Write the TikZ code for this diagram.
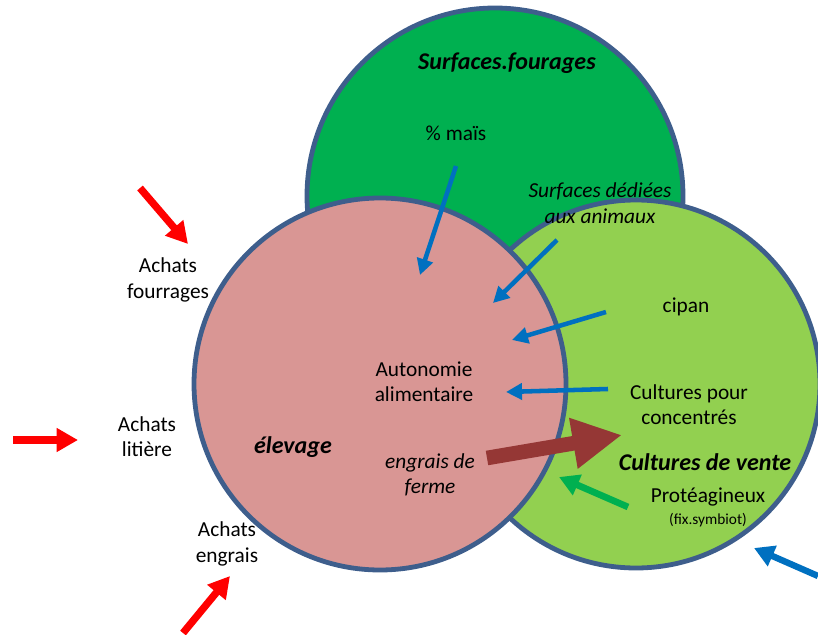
\documentclass[tikz,border=0pt]{standalone}
\usepackage{fontspec}
\setmainfont{Carlito}
\usetikzlibrary{arrows.meta}
\definecolor{sfgreen}{HTML}{00B050}
\definecolor{cvgreen}{HTML}{92D050}
\definecolor{elpink}{HTML}{D99694}
\definecolor{rim}{HTML}{3E5E8C}
\definecolor{flux}{HTML}{0070C0}
\definecolor{engr}{HTML}{953735}
\begin{document}
\begin{tikzpicture}[
  x=0.75pt, y=-0.75pt,
  font=\fontsize{16}{19}\selectfont,
  venn/.style={circle, draw=rim, line width=3.6pt, inner sep=0pt, outer sep=0pt},
  lbl/.style={align=center, inner sep=1pt},
  ttl/.style={font=\fontsize{18}{22}\selectfont\bfseries\itshape, inner sep=1pt},
  buy/.style={-{Triangle[length=16pt, width=17pt]}, line width=5.5pt, draw=red},
  feed/.style={-{Triangle[length=12pt, width=12pt]}, line width=3.4pt, draw=flux},
  feedext/.style={-{Triangle[length=15pt, width=16pt]}, line width=4.8pt, draw=flux},
  fix/.style={-{Triangle[length=15pt, width=16pt]}, line width=5pt, draw=sfgreen},
  recycle/.style={-{Triangle[length=37pt, width=36pt]}, line width=11pt, draw=engr},
]
  \useasboundingbox (0,0) rectangle (818,635);
  % --- the three domains ---
  \node[venn, fill=sfgreen, minimum size=282pt] (surf) at (495,196) {};
  \node[venn, fill=cvgreen, minimum size=276pt] (vente) at (636,384) {};
  \node[venn, fill=elpink, minimum size=279pt] (elev) at (380,384) {};
  % --- titles ---
  \node[ttl] (tsurf) at (507,63) {Surfaces.fourages};
  \node[ttl] (telev) at (293,447) {élevage};
  \node[ttl] (tvente) at (705,462) {Cultures de vente};
  % --- labels inside ---
  \node[lbl] (mais) at (456,133) {\% maïs};
  \node[lbl, font=\fontsize{16}{19}\selectfont\itshape] (dedie) at (600,203)
    {Surfaces dédiées\\ aux animaux};
  \node[lbl] (auto) at (424,382) {Autonomie\\ alimentaire};
  \node[lbl, font=\fontsize{16}{19}\selectfont\itshape] (ferme) at (430,475)
    {engrais de\\ ferme};
  \node[lbl] (cipan) at (686,307) {cipan};
  \node[lbl] (conc) at (689,405) {Cultures pour\\ concentrés};
  \node[lbl] (prot) at (708,497) {Protéagineux};
  \node[lbl, font=\fontsize{11.5}{13}\selectfont] (symb) at (708,520) {(fix.symbiot)};
  % --- purchases, outside ---
  \node[lbl] (afour) at (168,280) {Achats\\ fourrages};
  \node[lbl] (alit) at (147,437) {Achats\\ litière};
  \node[lbl] (aeng) at (227,544) {Achats\\ engrais};
  % --- arrow ends ---
  \coordinate (four-a) at (140,188);  \coordinate (four-b) at (188,244);
  \coordinate (lit-a) at (13,440);    \coordinate (lit-b) at (78,440);
  \coordinate (eng-a) at (183,633);   \coordinate (eng-b) at (230,576);
  \coordinate (mais-a) at (456,166);  \coordinate (mais-b) at (420,275);
  \coordinate (ded-a) at (557,240);   \coordinate (ded-b) at (493,303);
  \coordinate (cip-a) at (606,312);   \coordinate (cip-b) at (512,340);
  \coordinate (conc-a) at (608,389);  \coordinate (conc-b) at (506,392);
  \coordinate (ext-a) at (818,576);   \coordinate (ext-b) at (754,548);
  \coordinate (prot-a) at (628,507);  \coordinate (prot-b) at (559,477);
  \coordinate (ferme-a) at (487,458); \coordinate (ferme-b) at (622,435);
  % --- purchases in ---
  \draw[buy] (four-a) -- (four-b);
  \draw[buy] (lit-a) -- (lit-b);
  \draw[buy] (eng-a) -- (eng-b);
  % --- flows into feed autonomy ---
  \draw[feed] (mais-a) -- (mais-b);
  \draw[feed] (ded-a) -- (ded-b);
  \draw[feed] (cip-a) -- (cip-b);
  \draw[feed] (conc-a) -- (conc-b);
  \draw[feedext] (ext-a) -- (ext-b);
  % --- nitrogen ---
  \draw[fix] (prot-a) -- (prot-b);
  \draw[recycle] (ferme-a) -- (ferme-b);
\end{tikzpicture}
\end{document}
